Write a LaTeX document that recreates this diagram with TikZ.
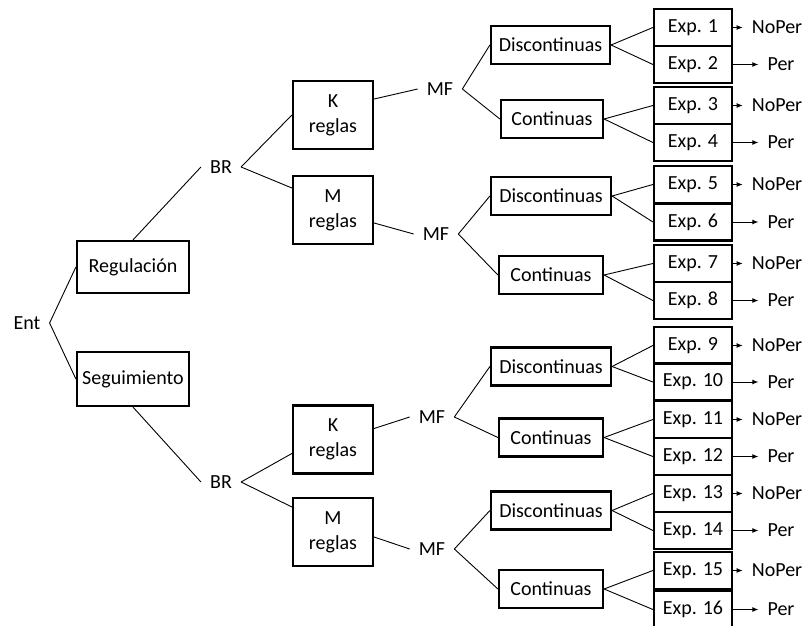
\documentclass[tikz,border=0pt]{standalone}
\usepackage{fontspec}
\setmainfont{Carlito}
\usetikzlibrary{arrows.meta}
\begin{document}
\begin{tikzpicture}[x=1pt,y=-1pt,
  box/.style={draw,line width=2.2pt,inner sep=0pt,align=center,font=\fontsize{20}{25}\selectfont},
  lab/.style={inner sep=9pt,font=\fontsize{20}{24}\selectfont},
  conn/.style={line width=0.9pt},
  arr/.style={line width=0.9pt,-{Latex[length=6pt,width=5pt]}}]
\useasboundingbox (0,0) rectangle (809,626);

% root and first level
\node[lab] (ent) at (27,323) {Ent};
\node[box,minimum width=112pt,minimum height=52pt] (reg) at (133,267) {Regulación};
\node[box,minimum width=112pt,minimum height=54pt] (seg) at (133,379) {Seguimiento};
\draw[conn] (ent.east) -- (reg.west);
\draw[conn] (ent.east) -- (seg.west);

% BR labels
\node[lab] (br1) at (221,167) {BR};
\node[lab] (br2) at (221,482) {BR};
\draw[conn] (reg.north) -- (br1.west);
\draw[conn] (seg.south) -- (br2.west);

% rule boxes
\node[box,minimum width=80pt,minimum height=68pt] (k1) at (333,115) {K\\reglas};
\node[box,minimum width=80pt,minimum height=68pt] (m1) at (333,210) {M\\reglas};
\node[box,minimum width=80pt,minimum height=68pt] (k2) at (333,439.5) {K\\reglas};
\node[box,minimum width=80pt,minimum height=68pt] (m2) at (333,532) {M\\reglas};
\draw[conn] (br1.east) -- (k1.west);
\draw[conn] (br1.east) -- ([yshift=22pt]m1.west);
\draw[conn] (br2.east) -- ([yshift=-14pt]k2.west);
\draw[conn] (br2.east) -- ([yshift=25pt]m2.west);

% MF labels
\node[lab] (mf1) at (440,89) {MF};
\node[lab] (mf2) at (436,234) {MF};
\node[lab] (mf3) at (432,417) {MF};
\node[lab] (mf4) at (432,549) {MF};
\draw[conn] ([yshift=16pt]k1.east) -- (mf1.west);
\draw[conn] ([yshift=-13pt]m1.east) -- (mf2.west);
\draw[conn] ([yshift=11pt]k2.east) -- (mf3.west);
\draw[conn] ([yshift=-5pt]m2.east) -- (mf4.west);

% Discontinuas / Continuas
\node[box,minimum width=119pt,minimum height=38pt] (d1) at (550.5,45) {Discontinuas};
\node[box,minimum width=102pt,minimum height=38pt] (c1) at (552,119) {Continuas};
\node[box,minimum width=120pt,minimum height=38pt] (d2) at (551,196) {Discontinuas};
\node[box,minimum width=104pt,minimum height=38pt] (c2) at (551,275) {Continuas};
\node[box,minimum width=120pt,minimum height=38pt] (d3) at (551,366.5) {Discontinuas};
\node[box,minimum width=104pt,minimum height=38pt] (c3) at (551,437.5) {Continuas};
\node[box,minimum width=120pt,minimum height=38pt] (d4) at (551,510.5) {Discontinuas};
\node[box,minimum width=104pt,minimum height=38pt] (c4) at (551,589) {Continuas};
\foreach \m/\d/\c in {mf1/d1/c1, mf2/d2/c2, mf3/d3/c3, mf4/d4/c4}{
  \draw[conn] (\m.east) -- (\d.west);
  \draw[conn] (\m.east) -- (\c.west);
}

% experiment boxes and outcomes
\foreach \a/\b/\ya/\yb/\g in {1/2/27.5/64.5/d1, 3/4/105.5/142.5/c1, 5/6/184.5/222/d2, 7/8/263.5/300.5/c2,
  9/10/345.5/382/d3, 11/12/419.5/456.5/c3, 13/14/493.5/530.5/d4, 15/16/570.5/609.5/c4}{
  \node[box,minimum width=78pt,minimum height=37pt] (e\a) at (693,\ya) {Exp. \a};
  \node[box,minimum width=78pt,minimum height=37pt] (e\b) at (693,\yb) {Exp. \b};
  \draw[conn] (\g.east) -- (e\a.west);
  \draw[conn] (\g.east) -- (e\b.west);
  \node[lab] (np\a) at (777,\ya) {NoPer};
  \node[lab] (p\b) at (781,\yb) {Per};
  \draw[arr] (e\a.east) -- (np\a.west);
  \draw[arr] (e\b.east) -- (p\b.west);
}
\end{tikzpicture}
\end{document}
